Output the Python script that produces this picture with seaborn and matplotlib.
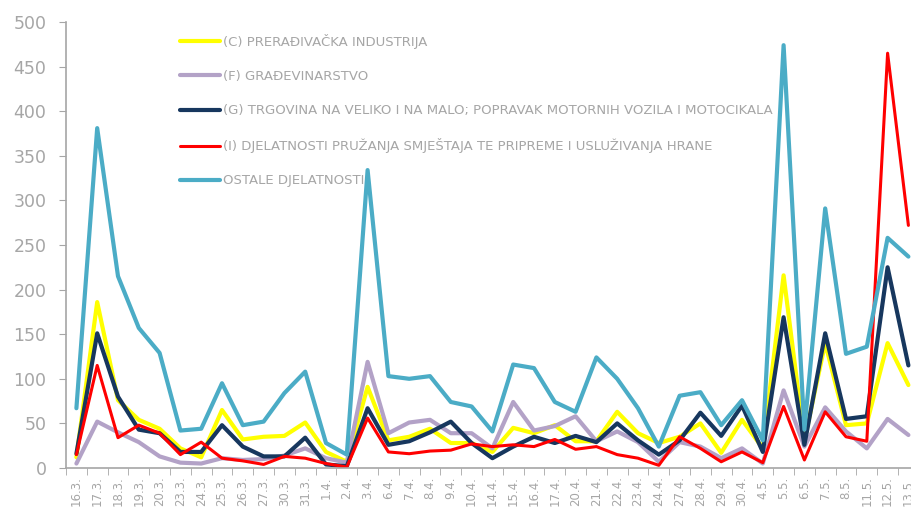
import pandas as pd
import numpy as np
import matplotlib.pyplot as plt
import seaborn as sns

# dates on the x axis
dates = ['16.3.', '17.3.', '18.3.', '19.3.', '20.3.', '23.3.', '24.3.', '25.3.', '26.3.', '27.3.',
         '30.3.', '31.3.', '1.4.', '2.4.', '3.4.', '6.4.', '7.4.', '8.4.', '9.4.', '10.4.',
         '14.4.', '15.4.', '16.4.', '17.4.', '20.4.', '21.4.', '22.4.', '23.4.', '24.4.', '27.4.',
         '28.4.', '29.4.', '30.4.', '4.5.', '5.5.', '6.5.', '7.5.', '8.5.', '11.5.', '12.5.', '13.5.']

# values per series
preradjivacka = [12, 186, 76, 54, 44, 22, 12, 65, 32, 35, 36, 51, 18, 7, 91, 31, 35, 44, 28, 28,
                 18, 45, 39, 48, 30, 30, 63, 39, 28, 35, 50, 17, 54, 22, 216, 31, 140, 48, 50, 140, 93]
gradjevinarstvo = [5, 52, 40, 29, 13, 6, 5, 11, 9, 10, 14, 22, 11, 6, 119, 39, 51, 54, 39, 39,
                   22, 74, 42, 47, 58, 30, 41, 29, 7, 29, 24, 11, 22, 5, 87, 24, 68, 41, 22, 55, 37]
trgovina = [16, 151, 80, 43, 39, 18, 18, 48, 24, 13, 13, 34, 4, 2, 67, 26, 30, 40, 52, 28,
            11, 24, 35, 28, 36, 29, 50, 31, 15, 31, 62, 36, 70, 18, 169, 26, 151, 55, 58, 225, 115]
smjestaj = [15, 115, 34, 48, 39, 15, 29, 11, 8, 4, 13, 11, 5, 1, 56, 18, 16, 19, 20, 27,
            24, 26, 24, 32, 21, 24, 15, 11, 3, 35, 22, 7, 18, 6, 69, 9, 63, 35, 30, 465, 272]
ostale = [67, 381, 215, 157, 129, 42, 44, 95, 48, 52, 84, 108, 28, 15, 334, 103, 100, 103, 74, 69,
          41, 116, 112, 74, 63, 124, 100, 67, 24, 81, 85, 48, 76, 31, 474, 43, 291, 128, 136, 258, 237]

series_names = ['(C) PRERAĐIVAČKA INDUSTRIJA',
                '(F) GRAĐEVINARSTVO',
                '(G) TRGOVINA NA VELIKO I NA MALO; POPRAVAK MOTORNIH VOZILA I MOTOCIKALA',
                '(I) DJELATNOSTI PRUŽANJA SMJEŠTAJA TE PRIPREME I USLUŽIVANJA HRANE',
                'OSTALE DJELATNOSTI']
series_values = [preradjivacka, gradjevinarstvo, trgovina, smjestaj, ostale]
colors = ['#FFFF00', '#B3A2C7', '#17375E', '#FF0000', '#4BACC6']
widths = [3.0, 3.0, 3.0, 2.2, 3.0]

sns.set_style('white')
plt.rcParams['font.family'] = ['Liberation Sans Narrow', 'DejaVu Sans']

fig = plt.figure(figsize=(9.11, 5.09), dpi=100)
ax = fig.add_axes([66 / 911, 41 / 509, 852.8 / 911, 446 / 509])

x = np.arange(len(dates))
for name, vals, col, lw in zip(series_names, series_values, colors, widths):
    df = pd.DataFrame({'x': x, 'y': vals})
    sns.lineplot(data=df, x='x', y='y', color=col, linewidth=lw, label=name, ax=ax)

grey = '#A6A6A6'
ax.set_xlim(-0.5, len(dates) - 0.5)
ax.set_ylim(0, 500)
ax.set_yticks(np.arange(0, 501, 50))
ax.set_xticks(x)
ax.set_xticklabels(dates, rotation=90)
ax.set_xticks(np.arange(-0.5, len(dates), 1), minor=True)
ax.tick_params(axis='x', which='major', length=0, pad=6, labelsize=8.5, labelcolor=grey)
ax.tick_params(axis='x', which='minor', length=5, color=grey, direction='out', bottom=True)
ax.tick_params(axis='y', length=5, color=grey, direction='out', left=True, pad=9,
               labelsize=12.5, labelcolor=grey)
ax.set_xlabel('')
ax.set_ylabel('')
for s in ['top', 'right']:
    ax.spines[s].set_visible(False)
for s in ['left', 'bottom']:
    ax.spines[s].set_color(grey)
    ax.spines[s].set_linewidth(1.2)

leg = ax.legend(loc='upper left', bbox_to_anchor=(180 / 911, 1 - 34 / 509),
                bbox_transform=fig.transFigure, frameon=False, fontsize=9.5,
                handlelength=3.0, handletextpad=0.25, labelspacing=1.6,
                borderpad=0, borderaxespad=0)
for t in leg.get_texts():
    t.set_color(grey)

fig.savefig('out.png', dpi=100)
